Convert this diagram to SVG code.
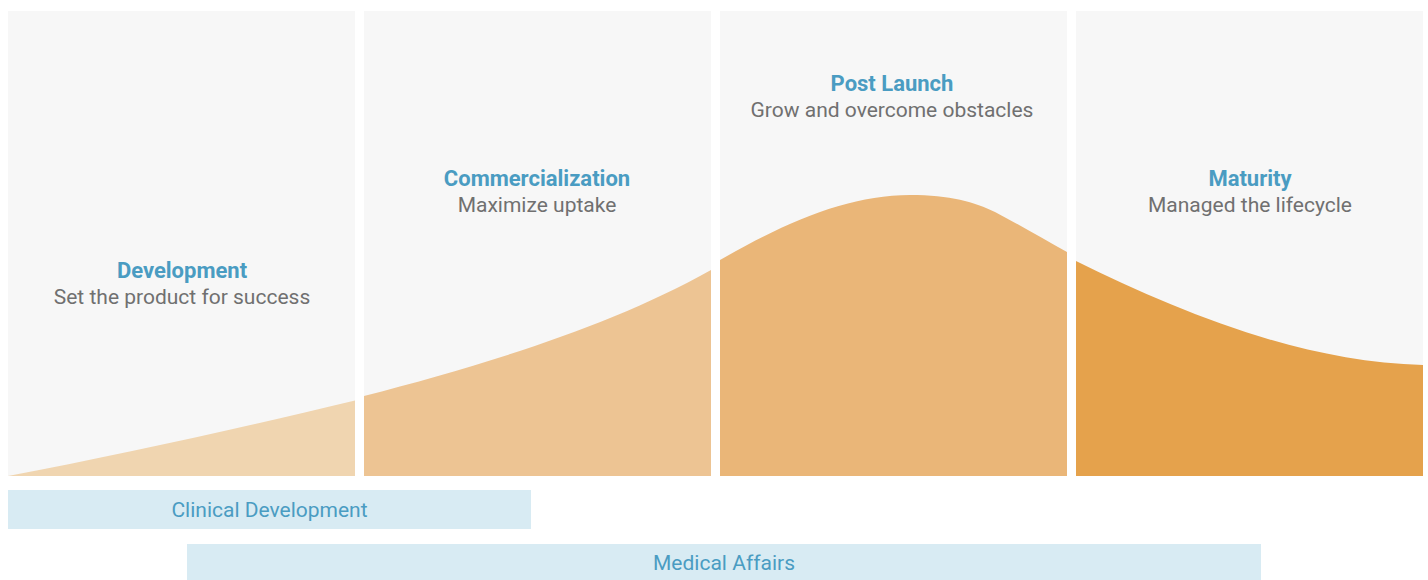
<svg xmlns="http://www.w3.org/2000/svg" width="1428" height="580" viewBox="0 0 1428 580">
  <style>
    .panel { fill: #F7F7F7; }
    .title { font-family: Roboto, "Liberation Sans", sans-serif; font-size: 22px; font-weight: bold; fill: #4A9CC2; text-anchor: middle; }
    .sub { font-family: Roboto, "Liberation Sans", sans-serif; font-size: 21px; fill: #707070; text-anchor: middle; }
    .bar { fill: #D8EBF3; }
    .barText { font-family: Roboto, "Liberation Sans", sans-serif; font-size: 21px; fill: #4A9CC2; text-anchor: middle; }
  </style>
  <rect width="1428" height="580" fill="#FFFFFF"/>
  <g id="development">
    <rect class="panel" x="8" y="11" width="347" height="465"/>
    <path d="M8,476 C 120,455 250,426 355,400.5 L355,476 Z" fill="#F0D5B0"/>
    <text class="title" x="182" y="278">Development</text>
    <text class="sub" x="182" y="304">Set the product for success</text>
  </g>
  <g id="commercialization">
    <rect class="panel" x="364" y="11" width="347" height="465"/>
    <path d="M364,396 C 480,366 610,327 711,270 L711,476 L364,476 Z" fill="#EDC493"/>
    <text class="title" x="537" y="186">Commercialization</text>
    <text class="sub" x="537" y="212">Maximize uptake</text>
  </g>
  <g id="post-launch">
    <rect class="panel" x="720" y="11" width="347" height="465"/>
    <path d="M720,260 C 790,220 850,195 910,195 C 950,195 975,202 995,212 C 1020,225 1045,240 1067,252 L1067,476 L720,476 Z" fill="#EAB678"/>
    <text class="title" x="892" y="91">Post Launch</text>
    <text class="sub" x="892" y="117">Grow and overcome obstacles</text>
  </g>
  <g id="maturity">
    <rect class="panel" x="1076" y="11" width="347" height="465"/>
    <path d="M1076,261 C 1180,312 1300,362 1423,365 L1423,476 L1076,476 Z" fill="#E5A24C"/>
    <text class="title" x="1250" y="186">Maturity</text>
    <text class="sub" x="1250" y="212">Managed the lifecycle</text>
  </g>
  <g id="clinical-development">
    <rect class="bar" x="8" y="490" width="523" height="39"/>
    <text class="barText" x="269.5" y="517">Clinical Development</text>
  </g>
  <g id="medical-affairs">
    <rect class="bar" x="187" y="544" width="1074" height="36"/>
    <text class="barText" x="724" y="570">Medical Affairs</text>
  </g>
  <g id="connectors"></g>
</svg>
